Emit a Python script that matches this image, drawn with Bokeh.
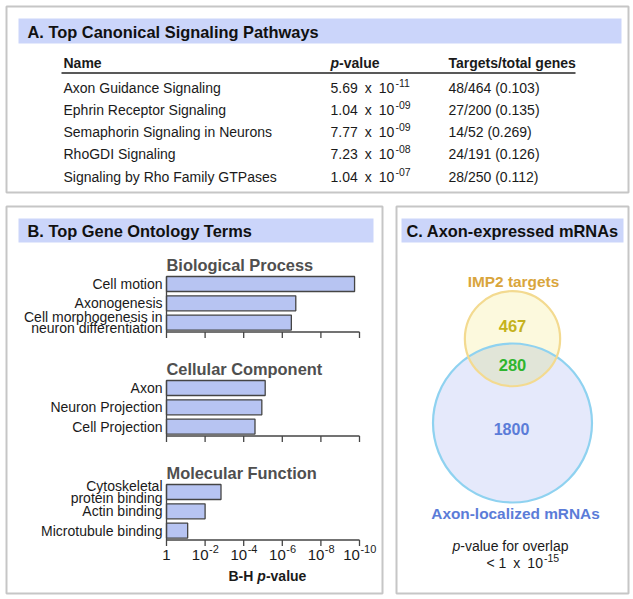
import numpy as np
from bokeh.plotting import figure
from bokeh.models import Range1d, LogScale
from bokeh.core.properties import value
from bokeh.embed import file_html
from bokeh.resources import INLINE

# ---------------- data ----------------
pathway_names = ["Axon Guidance Signaling", "Ephrin Receptor Signaling",
                 "Semaphorin Signaling in Neurons", "RhoGDI Signaling",
                 "Signaling by Rho Family GTPases"]
pathway_p_mantissa = ["5.69", "1.04", "7.77", "7.23", "1.04"]
pathway_p_exponent = ["-11", "-09", "-09", "-08", "-07"]
pathway_targets = ["48/464 (0.103)", "27/200 (0.135)", "14/52 (0.269)",
                   "24/191 (0.126)", "28/250 (0.112)"]

go_categories = ["Biological Process", "Cellular Component", "Molecular Function"]
go_bp_terms = ["Cell motion", "Axonogenesis", "Cell morphogenesis in\nneuron differentiation"]
go_bp_p = [1.8e-10, 2.0e-7, 3.4e-7]
go_cc_terms = ["Axon", "Neuron Projection", "Cell Projection"]
go_cc_p = [7.7e-6, 1.15e-5, 2.6e-5]
go_mf_terms = ["Cytoskeletal\nprotein binding", "Actin binding", "Microtubule binding"]
go_mf_p = [1.5e-3, 1.0e-2, 8.0e-2]
go_tick_exponents = [0, -2, -4, -6, -8, -10]

venn_imp2_only = 467
venn_overlap = 280
venn_axon_only = 1800
overlap_p_exponent = "-15"

# ---------------- figure ----------------
W, H = 631, 597
p = figure(width=W, height=H, x_range=Range1d(0, W), y_range=Range1d(H, 0),
           output_backend="svg", toolbar_location=None, min_border=0,
           x_axis_location=None, y_axis_location=None, outline_line_color=None,
           background_fill_color="white", border_fill_color="white")
p.grid.visible = False

# log scale for panel B (1 -> x=166, 1e-10 -> x=359)
x_one, x_last = 166.0, 359.0
px_per_dec = (x_last - x_one) / 10.0
p.extra_x_ranges = {"log": Range1d(10 ** (x_one / px_per_dec),
                                   10 ** (-(W - x_one) / px_per_dec))}
p.extra_x_scales = {"log": LogScale()}

FONT = value("Liberation Sans")
INK = "#1a1a1a"


def txt(x, y, s, size, color=INK, style="normal", align="left", baseline="middle",
        xo=0, yo=0, rn=None):
    kw = {}
    if rn:
        kw["x_range_name"] = rn
    p.text(x=[x], y=[y], text=[s], text_font=FONT, text_font_size=value(f"{size}px"),
           text_font_style=style, text_color=color, text_align=align,
           text_baseline=baseline, x_offset=xo, y_offset=yo, **kw)


# ---------------- panel frames & headers ----------------
BORDER = "#c6c6c6"
HEAD = "#cbd5fa"
p.quad(left=[6, 6, 396], right=[628, 382, 628], top=[6, 206, 206], bottom=[192, 593, 593],
       fill_color=None, line_color=BORDER, line_width=2)
p.quad(left=[18, 18, 401], right=[621, 373, 623], top=[18, 218, 218], bottom=[43, 242, 242],
       fill_color=HEAD, line_color=None)
txt(27, 31, "A. Top Canonical Signaling Pathways", 16.4, color="#111", style="bold")
txt(27, 230, "B. Top Gene Ontology Terms", 16.4, color="#111", style="bold")
txt(406, 230, "C. Axon-expressed mRNAs", 16.4, color="#111", style="bold")

# ---------------- panel A : table ----------------
col_name, col_p, col_t = 63, 330, 448
txt(col_name, 62, "Name", 14, style="bold")
txt(col_p, 62, "p", 14, style="bold italic")
txt(col_p + 8.6, 62, "-value", 14, style="bold")
txt(col_t, 62, "Targets/total genes", 14, style="bold")
p.segment(x0=[61], x1=[575], y0=[72.5], y1=[72.5], line_color="#222", line_width=1.5)
row_y0, row_dy = 87, 22.25
for i, name in enumerate(pathway_names):
    y = row_y0 + i * row_dy
    txt(col_name, y, name, 14)
    txt(col_p, y, pathway_p_mantissa[i] + "\u2002x\u200210", 14)
    txt(col_p + 65, y - 5, pathway_p_exponent[i], 10.5)
    txt(col_t, y, pathway_targets[i], 14)

# ---------------- panel B : GO bars ----------------
BAR_FILL = "#b7c4f2"
BAR_LINE = "#454545"
groups = [(go_bp_terms, go_bp_p), (go_cc_terms, go_cc_p), (go_mf_terms, go_mf_p)]
title_y0, group_dy = 264, 104
bar_dy, bar_h = 19.3, 15
for g, (terms, pv) in enumerate(groups):
    ty = title_y0 + g * group_dy
    txt(1, ty, go_categories[g], 16.4, color="#4f4f4f", style="bold", rn="log", xo=0)
    ys = [ty + 19.5 + j * bar_dy for j in range(len(terms))]
    p.hbar(y=ys, height=bar_h, left=1, right=pv, fill_color=BAR_FILL,
           line_color=BAR_LINE, line_width=1.3, x_range_name="log")
    for j, term in enumerate(terms):
        lines = term.split("\n")
        if len(lines) == 1:
            txt(1, ys[j], lines[0], 14, rn="log", align="right", xo=-4)
        else:
            txt(1, ys[j] - 5.6, lines[0], 14, rn="log", align="right", xo=-4)
            txt(1, ys[j] + 5.6, lines[1], 14, rn="log", align="right", xo=-4)
    ay = ty + 67.5
    p.segment(x0=[1], x1=[10.0 ** go_tick_exponents[-1]], y0=[ay], y1=[ay],
              line_color=BAR_LINE, line_width=1.3, x_range_name="log")
    p.segment(x0=[1], x1=[1], y0=[ys[0] - bar_h / 2], y1=[ay],
              line_color=BAR_LINE, line_width=1.3, x_range_name="log")
    tx = [10.0 ** e for e in go_tick_exponents]
    p.segment(x0=tx, x1=tx, y0=[ay] * len(tx), y1=[ay + 6] * len(tx),
              line_color=BAR_LINE, line_width=1.3, x_range_name="log")
    if g == len(groups) - 1:
        ly = ay + 15
        for e in go_tick_exponents:
            if e == 0:
                txt(1, ly, "1", 15, rn="log", align="center")
            else:
                sup = str(e)
                wb = 15 * 1.112
                ws = 11 * (0.333 + 0.556 * (len(sup) - 1))
                off = (wb - ws) / 2
                txt(10.0 ** e, ly, "10", 15, rn="log", align="right", xo=off)
                txt(10.0 ** e, ly - 6, sup, 11, rn="log", align="left", xo=off + 0.5)
        # axis title "B-H p-value"
        tyl = ly + 21
        txt(228, tyl, "B-H ", 14, style="bold")
        txt(256.8, tyl, "p", 14, style="bold italic")
        txt(265.4, tyl, "-value", 14, style="bold")

# ---------------- panel C : Venn ----------------
k = 1.743  # px per sqrt(count)
n_imp = venn_imp2_only + venn_overlap
n_ax = venn_axon_only + venn_overlap
r1 = k * np.sqrt(n_imp)
r2 = k * np.sqrt(n_ax)
target = np.pi * k ** 2 * venn_overlap


def lens_area(d):
    a1 = np.arccos((d * d + r1 * r1 - r2 * r2) / (2 * d * r1))
    a2 = np.arccos((d * d + r2 * r2 - r1 * r1) / (2 * d * r2))
    return r1 * r1 * (a1 - np.sin(2 * a1) / 2) + r2 * r2 * (a2 - np.sin(2 * a2) / 2)


lo_d, hi_d = abs(r2 - r1) + 1e-6, r1 + r2 - 1e-6
for _ in range(80):
    mid = (lo_d + hi_d) / 2
    if lens_area(mid) > target:
        lo_d = mid
    else:
        hi_d = mid
d = (lo_d + hi_d) / 2

cx = 512.0
cy2 = 422.5
cy1 = cy2 - d
a = (d * d + r1 * r1 - r2 * r2) / (2 * d)
h = np.sqrt(r1 * r1 - a * a)
th0 = np.arctan2(a, h)
th = np.linspace(th0, np.pi - th0, 80)
ph1 = np.arctan2(-(d - a), -h)
ph2 = np.arctan2(-(d - a), h)
ph = np.linspace(ph1, ph2, 80)
lens_x = np.concatenate([cx + r1 * np.cos(th), cx + r2 * np.cos(ph)])
lens_y = np.concatenate([cy1 + r1 * np.sin(th), cy2 + r2 * np.sin(ph)])

p.circle(x=[cx], y=[cy2], radius=r2, fill_color="#e5e9fb", line_color=None)
p.circle(x=[cx], y=[cy1], radius=r1, fill_color="#fcf9dd", line_color=None)
p.patch(lens_x, lens_y, fill_color="#e1e5d8", line_color=None)
p.circle(x=[cx], y=[cy2], radius=r2, fill_color=None, line_color="#8fd2f0", line_width=2.2)
p.circle(x=[cx], y=[cy1], radius=r1, fill_color=None, line_color="#f3da90", line_width=2.2)

txt(cx + 1, cy1 - r1 - 10, "IMP2 targets", 15.4, color="#d9a53c", style="bold", align="center")
txt(cx, cy1 - 13, str(venn_imp2_only), 16.5, color="#c5b21c", style="bold", align="center")
txt(cx, (cy1 + r1 + cy2 - r2) / 2, str(venn_overlap), 16.5, color="#2fb52f", style="bold", align="center")
txt(cx - 1, cy2 + 5.5, str(venn_axon_only), 16, color="#5b7cd8", style="bold", align="center")
txt(cx + 3, cy2 + r2 + 11, "Axon-localized mRNAs", 15.4, color="#5b7cd8", style="bold", align="center")

txt(452, 545, "p", 14, style="italic")
txt(459.8, 545, "-value for overlap", 14)
txt(486, 562, "<\u00201\u2002x\u200210", 14)
txt(543.5, 557, overlap_p_exponent, 10.5)

open("out.html", "w").write(file_html(p, INLINE))
